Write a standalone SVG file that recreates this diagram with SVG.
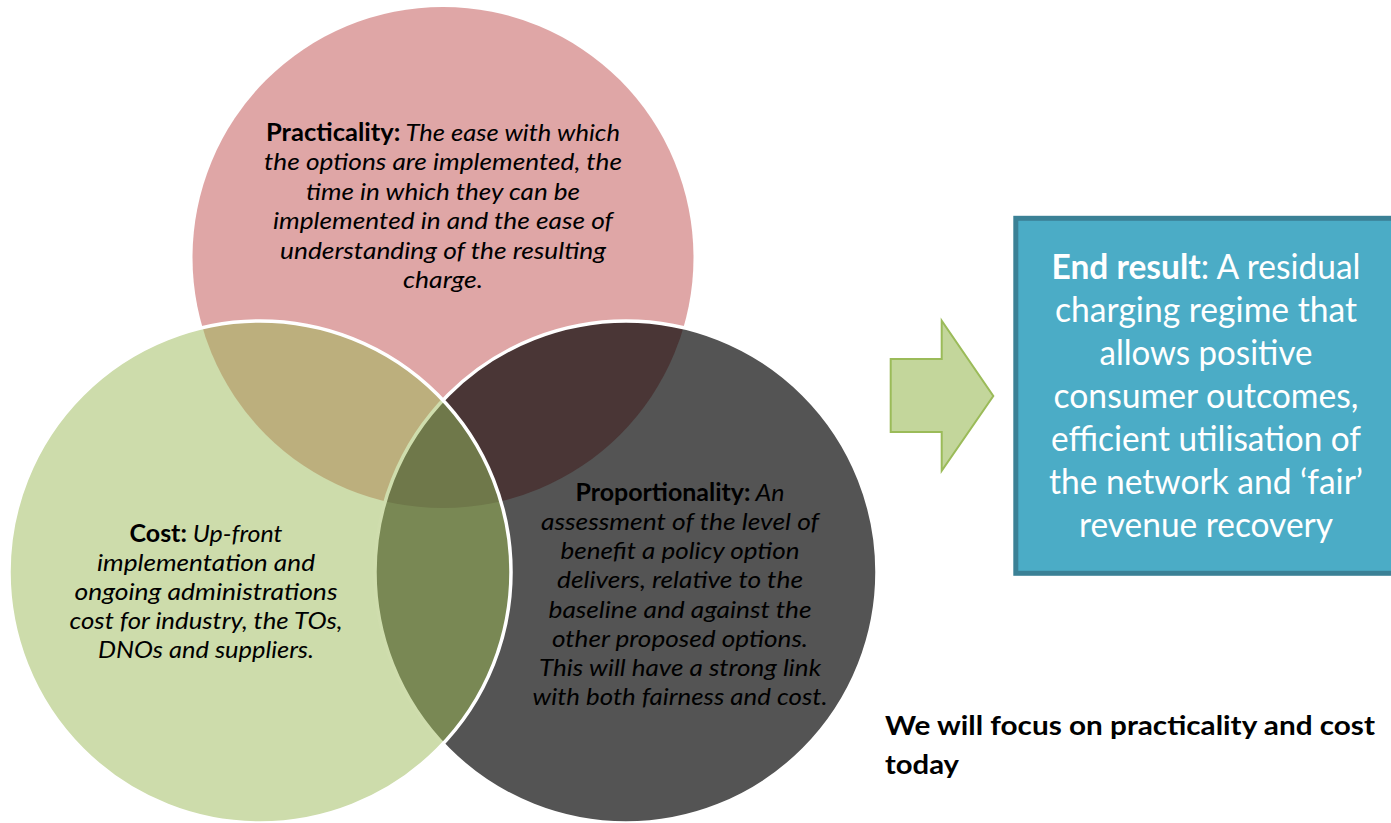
<svg xmlns="http://www.w3.org/2000/svg" width="1391" height="823" viewBox="0 0 1391 823">
<defs>
<style>
.ct{font-family:Lato,"Liberation Sans",sans-serif;font-size:24px;fill:#000;text-anchor:middle;font-style:italic}
.b{font-weight:bold;font-style:normal}
.bx{font-family:Lato,"Liberation Sans",sans-serif;font-size:34px;fill:#fff;text-anchor:middle}
.nt{font-family:Lato,"Liberation Sans",sans-serif;font-size:26px;font-weight:bold;fill:#000}
</style>
<clipPath id="clipPink"><circle cx="443" cy="257.5" r="250.5"/></clipPath>
<clipPath id="clipGreen"><circle cx="260" cy="572" r="251"/></clipPath>
<clipPath id="clipDark"><circle cx="626" cy="572" r="251"/></clipPath>
</defs>
<rect width="1391" height="823" fill="#fff"/>

<g id="node-practicality">
<circle cx="443" cy="257.5" r="250.5" fill="#dfa6a6"/>
<text class="ct" x="443" y="141" textLength="354" lengthAdjust="spacingAndGlyphs"><tspan class="b">Practicality:</tspan> The ease with which</text>
<text class="ct" x="443" y="170.4" textLength="358" lengthAdjust="spacingAndGlyphs">the options are implemented, the</text>
<text class="ct" x="443" y="199.8" textLength="274" lengthAdjust="spacingAndGlyphs">time in which they can be</text>
<text class="ct" x="443" y="229.2" textLength="340" lengthAdjust="spacingAndGlyphs">implemented in and the ease of</text>
<text class="ct" x="443" y="258.6" textLength="326" lengthAdjust="spacingAndGlyphs">understanding of the resulting</text>
<text class="ct" x="443" y="288" textLength="80" lengthAdjust="spacingAndGlyphs">charge.</text>
</g>

<g id="node-proportionality">
<circle cx="626" cy="572" r="251" fill="#545454"/>
<text class="ct" x="680" y="500.7" textLength="209" lengthAdjust="spacingAndGlyphs"><tspan class="b">Proportionality:</tspan> An</text>
<text class="ct" x="680" y="529.9" textLength="278" lengthAdjust="spacingAndGlyphs">assessment of the level of</text>
<text class="ct" x="680" y="559.1" textLength="239" lengthAdjust="spacingAndGlyphs">benefit a policy option</text>
<text class="ct" x="680" y="588.3" textLength="246" lengthAdjust="spacingAndGlyphs">delivers, relative to the</text>
<text class="ct" x="680" y="617.5" textLength="263" lengthAdjust="spacingAndGlyphs">baseline and against the</text>
<text class="ct" x="680" y="646.7" textLength="256" lengthAdjust="spacingAndGlyphs">other proposed options.</text>
<text class="ct" x="680" y="675.9" textLength="282" lengthAdjust="spacingAndGlyphs">This will have a strong link</text>
<text class="ct" x="680" y="705.1" textLength="295" lengthAdjust="spacingAndGlyphs">with both fairness and cost.</text>
</g>

<g id="overlap-practicality-proportionality">
<circle cx="443" cy="257.5" r="250.5" fill="#4a3636" clip-path="url(#clipDark)"/>
<circle cx="626" cy="572" r="251" fill="none" stroke="#fff" stroke-width="3.5"/>
</g>

<g id="node-cost">
<circle cx="260" cy="572" r="251" fill="#cddcab"/>
<text class="ct" x="206" y="541.5" textLength="153" lengthAdjust="spacingAndGlyphs"><tspan class="b">Cost:</tspan> Up-front</text>
<text class="ct" x="206" y="570.7" textLength="218" lengthAdjust="spacingAndGlyphs">implementation and</text>
<text class="ct" x="206" y="599.9" textLength="263" lengthAdjust="spacingAndGlyphs">ongoing administrations</text>
<text class="ct" x="206" y="629.1" textLength="273" lengthAdjust="spacingAndGlyphs">cost for industry, the TOs,</text>
<text class="ct" x="206" y="658.3" textLength="216" lengthAdjust="spacingAndGlyphs">DNOs and suppliers.</text>
</g>

<g id="overlaps-cost">
<circle cx="443" cy="257.5" r="250.5" fill="#bcaf7d" clip-path="url(#clipGreen)"/>
<circle cx="626" cy="572" r="251" fill="#798854" clip-path="url(#clipGreen)"/>
<g clip-path="url(#clipGreen)">
<circle cx="443" cy="257.5" r="250.5" fill="#6f784a" clip-path="url(#clipDark)"/>
<circle cx="626" cy="572" r="251" fill="none" stroke="#cfddad" stroke-width="3.5"/>
</g>
<circle cx="260" cy="572" r="251" fill="none" stroke="#fff" stroke-width="3.5"/>
</g>

<g id="connectors">
<path d="M890.7,359 L941.7,359 L941.7,320.7 L993.3,396 L941.7,470.7 L941.7,432 L890.7,432 Z" fill="#c3d69b" stroke="#9bbb59" stroke-width="2" stroke-linejoin="miter"/>
</g>

<g id="node-end-result">
<rect x="1015.8" y="218.3" width="400" height="355" fill="#4bacc6" stroke="#3b8196" stroke-width="5"/>
<text class="bx" x="1206" y="279" textLength="309" lengthAdjust="spacingAndGlyphs"><tspan font-weight="bold">End result</tspan>: A residual</text>
<text class="bx" x="1206" y="322" textLength="302" lengthAdjust="spacingAndGlyphs">charging regime that</text>
<text class="bx" x="1206" y="365" textLength="213" lengthAdjust="spacingAndGlyphs">allows positive</text>
<text class="bx" x="1206" y="408" textLength="305" lengthAdjust="spacingAndGlyphs">consumer outcomes,</text>
<text class="bx" x="1206" y="451" textLength="310" lengthAdjust="spacingAndGlyphs">efficient utilisation of</text>
<text class="bx" x="1206" y="494" textLength="314" lengthAdjust="spacingAndGlyphs">the network and ‘fair’</text>
<text class="bx" x="1206" y="537" textLength="254" lengthAdjust="spacingAndGlyphs">revenue recovery</text>
</g>

<g id="node-focus-note">
<text class="nt" x="885" y="735" textLength="490" lengthAdjust="spacingAndGlyphs">We will focus on practicality and cost</text>
<text class="nt" x="885" y="774" textLength="74" lengthAdjust="spacingAndGlyphs">today</text>
</g>
</svg>
